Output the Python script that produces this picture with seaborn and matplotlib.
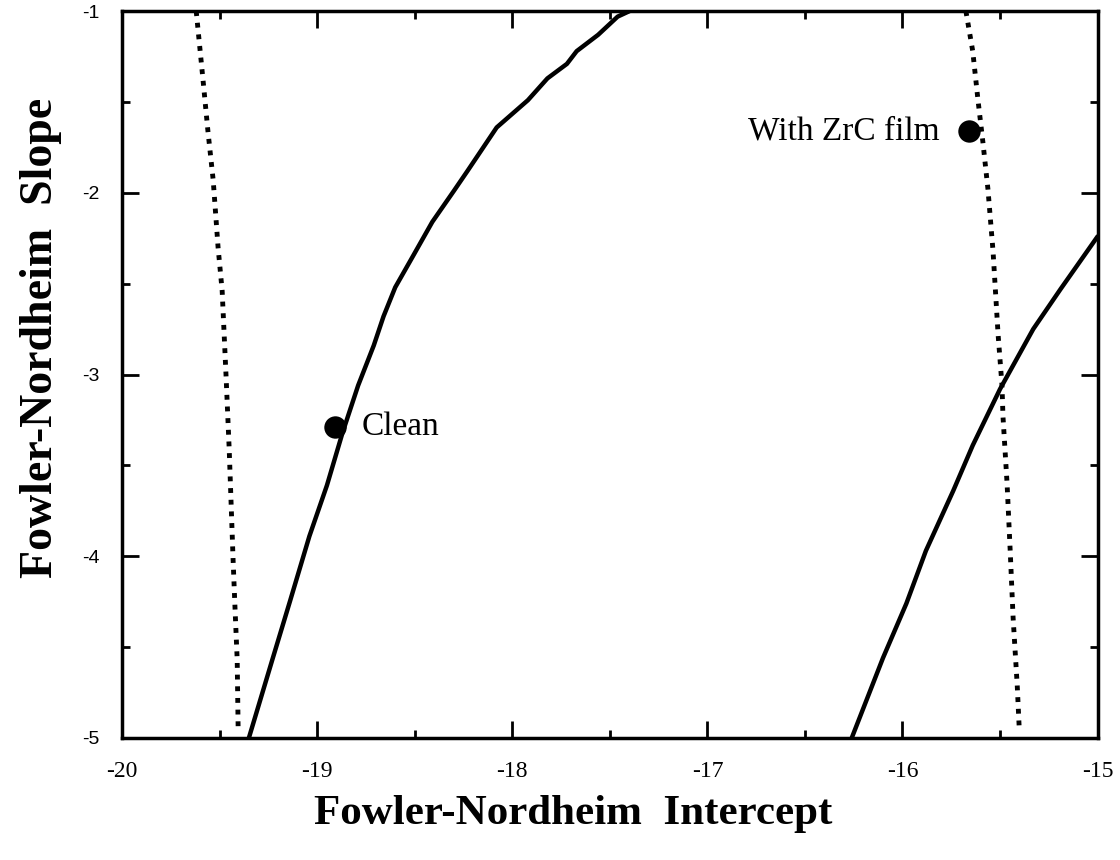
# import libraries
import numpy as np
import matplotlib
matplotlib.use("Agg")
import matplotlib.pyplot as plt
import pandas as pd
import seaborn as sns
from matplotlib.ticker import MultipleLocator

# Data
clean_line_x = [-19.35, -19.23, -19.14, -19.04, -18.95, -18.87, -18.79, -18.71,
                -18.66, -18.60, -18.51, -18.41, -18.30, -18.23, -18.08, -17.92,
                -17.82, -17.72, -17.67, -17.56, -17.46, -17.40]
clean_line_y = [-5.00, -4.57, -4.25, -3.89, -3.61, -3.32, -3.06, -2.84,
                -2.68, -2.52, -2.35, -2.16, -1.99, -1.88, -1.64, -1.49,
                -1.37, -1.29, -1.22, -1.13, -1.03, -1.00]

zrc_line_x = [-16.26, -16.10, -15.98, -15.88, -15.74, -15.64, -15.50, -15.33,
              -15.19, -15.00]
zrc_line_y = [-5.00, -4.56, -4.26, -3.97, -3.64, -3.39, -3.08, -2.75,
              -2.53, -2.24]

left_dot_x = [-19.62, -19.585, -19.56, -19.533, -19.508, -19.487, -19.467,
              -19.451, -19.431, -19.421, -19.41, -19.405]
left_dot_y = [-1.00, -1.38, -1.66, -1.93, -2.30, -2.54, -3.01,
              -3.41, -4.02, -4.29, -4.57, -4.96]

right_dot_x = [-15.675, -15.64, -15.613, -15.588, -15.562, -15.536, -15.51,
               -15.49, -15.485, -15.464, -15.448, -15.433, -15.412, -15.402]
right_dot_y = [-1.00, -1.22, -1.49, -1.72, -1.98, -2.32, -2.78,
               -3.06, -3.23, -3.60, -3.97, -4.34, -4.71, -4.94]

point_labels = ["Clean", "With ZrC film"]
point_x = [-18.91, -15.66]
point_y = [-3.29, -1.66]

# Setup
sns.set_theme(style="ticks")
plt.rcParams['font.family'] = ['Liberation Serif', 'DejaVu Serif']
plt.rcParams['axes.unicode_minus'] = False
for key in ['text.color', 'axes.labelcolor', 'xtick.color', 'ytick.color']:
    plt.rcParams[key] = 'black'

fig = plt.figure(figsize=(11.2, 8.6), dpi=100)
ax = fig.add_axes([0.109, 0.142, 0.871, 0.845])

# curves
dots = (0, (1, 1.4))
sns.lineplot(x=clean_line_x, y=clean_line_y, sort=False, estimator=None,
             color='black', lw=3.2, ax=ax)
sns.lineplot(x=zrc_line_x, y=zrc_line_y, sort=False, estimator=None,
             color='black', lw=3.2, ax=ax)
sns.lineplot(x=left_dot_x, y=left_dot_y, sort=False, estimator=None,
             color='black', lw=3.5, linestyle=dots, ax=ax)
sns.lineplot(x=right_dot_x, y=right_dot_y, sort=False, estimator=None,
             color='black', lw=3.5, linestyle=dots, ax=ax)

# measured points
pts = pd.DataFrame({'x': point_x, 'y': point_y, 'label': point_labels})
sns.scatterplot(data=pts, x='x', y='y', color='black', s=260,
                edgecolor='black', linewidth=0, ax=ax, zorder=5)
ax.text(point_x[0] + 0.14, point_y[0], point_labels[0], fontsize=24,
        ha='left', va='center')
ax.text(point_x[1] - 0.15, point_y[1], point_labels[1], fontsize=24,
        ha='right', va='center')

# axes
ax.set_xlim(-20, -15)
ax.set_ylim(-5, -1)
ax.xaxis.set_major_locator(MultipleLocator(1))
ax.xaxis.set_minor_locator(MultipleLocator(0.5))
ax.yaxis.set_major_locator(MultipleLocator(1))
ax.yaxis.set_minor_locator(MultipleLocator(0.5))
ax.tick_params(which='both', direction='in', top=True, right=True,
               color='black', width=2)
ax.tick_params(which='major', length=12)
ax.tick_params(which='minor', length=6)
ax.tick_params(axis='x', which='major', pad=17, labelsize=17)
ax.tick_params(axis='y', which='major', pad=16, labelsize=14)
for lab in ax.get_yticklabels():
    lab.set_family(['Liberation Sans', 'DejaVu Sans'])
for sp in ax.spines.values():
    sp.set_linewidth(2.5)
    sp.set_color('black')

ax.set_xlabel('Fowler-Nordheim  Intercept', fontsize=31, fontweight='bold')
ax.set_ylabel('Fowler-Nordheim  Slope', fontsize=33, fontweight='bold')
ax.xaxis.set_label_coords(0.462, -0.079)
ax.yaxis.set_label_coords(-0.062, 0.551)

plt.savefig('out.png', dpi=100)
